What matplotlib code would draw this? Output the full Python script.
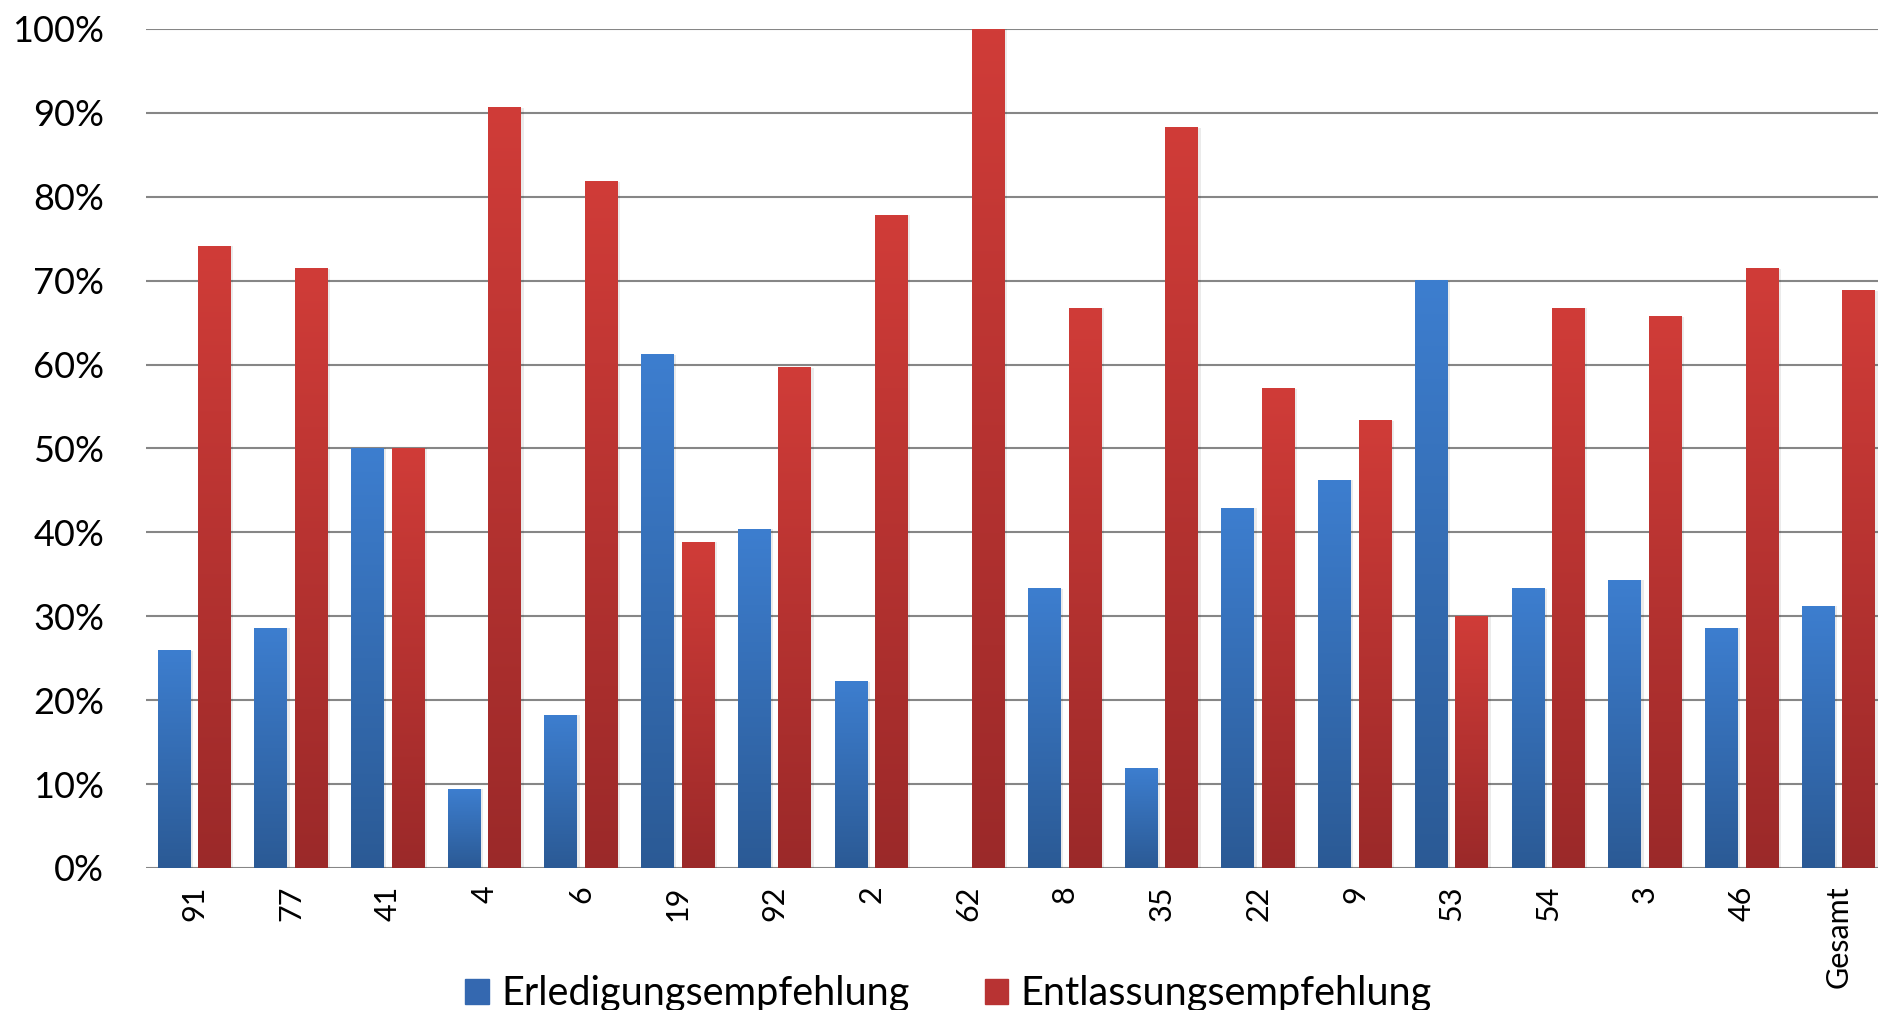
import matplotlib.pyplot as plt
import numpy as np
from matplotlib.colors import LinearSegmentedColormap
from matplotlib.patches import Patch

plt.rcParams['font.family'] = ['Lato', 'DejaVu Sans']

# Anteile je Kategorie (%)
kategorien = ['91', '77', '41', '4', '6', '19', '92', '2', '62', '8',
              '35', '22', '9', '53', '54', '3', '46', 'Gesamt']
erledigung = [25.9, 28.6, 50.0, 9.4, 18.2, 61.2, 40.4, 22.2, 0.0, 33.3,
              11.8, 42.9, 46.2, 70.0, 33.3, 34.3, 28.6, 31.2]
entlassung = [74.1, 71.4, 50.0, 90.6, 81.8, 38.8, 59.6, 77.8, 100.0, 66.7,
              88.2, 57.1, 53.3, 30.0, 66.7, 65.7, 71.4, 68.8]
serien = ['Erledigungsempfehlung', 'Entlassungsempfehlung']

blau = LinearSegmentedColormap.from_list('blau', ['#2b5a95', '#3d7ecf'])
rot = LinearSegmentedColormap.from_list('rot', ['#9b2929', '#d03c38'])

fig = plt.figure(figsize=(18.78, 10.10), dpi=100)
ax = fig.add_axes([0.0777, 0.1406, 0.927, 0.8307])

x = np.arange(len(kategorien))
w = 0.34
grad = np.linspace(0, 1, 256).reshape(-1, 1)


def gradient_bars(xpos, values, cmap):
    bars = ax.bar(xpos, values, w, color='none', zorder=3)
    for b in bars:
        h = b.get_height()
        if h <= 0:
            continue
        x0 = b.get_x()
        # leichter Schatten rechts
        ax.bar(x0 + w / 2 + 0.025, h, w, color='#000000', alpha=0.08, zorder=2, linewidth=0)
        ax.imshow(grad, extent=[x0, x0 + w, 0, h], origin='lower',
                  aspect='auto', cmap=cmap, zorder=3)
    return bars


gradient_bars(x - 0.21, erledigung, blau)
gradient_bars(x + 0.21, entlassung, rot)

ax.set_xlim(-0.5, len(kategorien) - 0.5)
ax.set_ylim(0, 100)
ax.set_yticks(range(0, 101, 10))
ax.set_yticklabels([f'{v}%' for v in range(0, 101, 10)], fontsize=26)
ax.set_xticks(x)
ax.set_xticklabels(kategorien, rotation=90, fontsize=22)
ax.tick_params(axis='both', length=0)
ax.tick_params(axis='y', pad=30)
ax.tick_params(axis='x', pad=12.5)
ax.yaxis.grid(True, color='#868686', linewidth=1.5)
ax.set_axisbelow(True)
for s in ax.spines.values():
    s.set_visible(False)

handles = [Patch(color='#3468b0'), Patch(color='#b83333')]
fig.legend(handles, serien, loc='center', bbox_to_anchor=(0.505, 0.016), ncol=2,
           fontsize=28.5, frameon=False, handlelength=0.6, handleheight=0.6,
           handletextpad=0.3, columnspacing=1.9)

fig.savefig('out.png', dpi=100)
